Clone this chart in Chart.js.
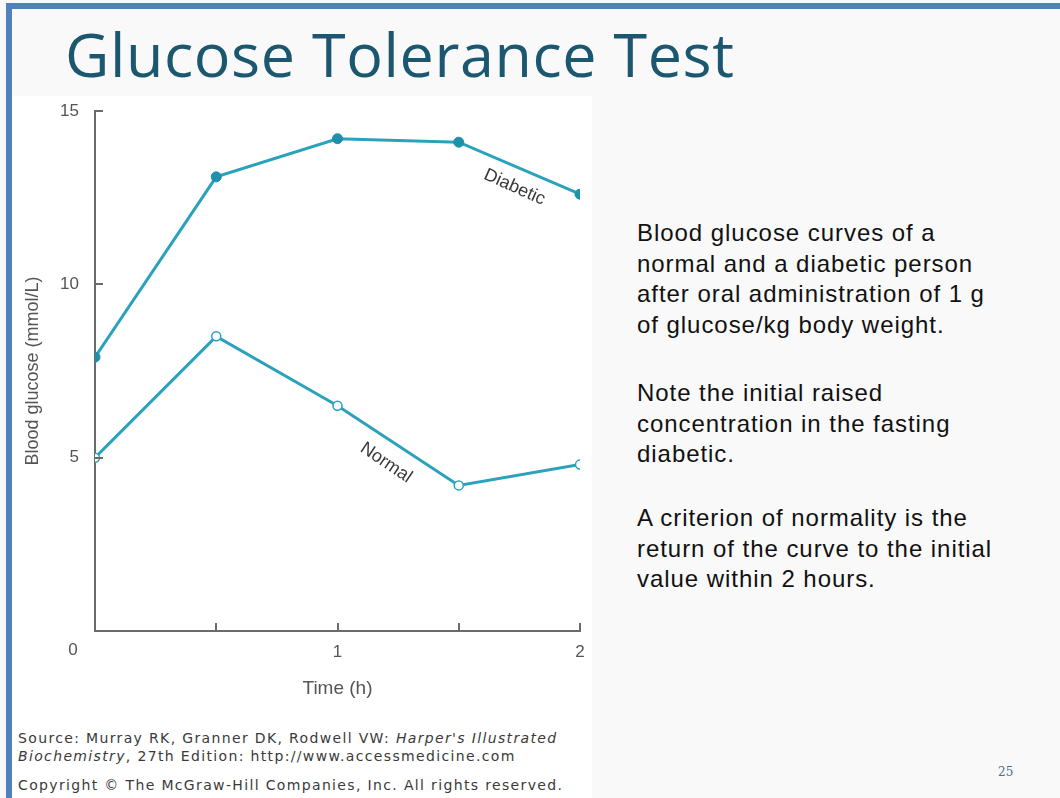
<!DOCTYPE html>
<html>
<head>
<meta charset="utf-8">
<script src="https://cdn.jsdelivr.net/npm/chart.js@4.4.1/dist/chart.umd.min.js"></script>
<style>
  html, body { margin: 0; padding: 0; }
  body { width: 1060px; height: 798px; position: relative; overflow: hidden; background: #f9f9f9; }
  #frame { position: absolute; left: 6px; top: 3px; right: 0; bottom: 0; border-top: 6px solid #4f81bd; border-left: 6px solid #4f81bd; }
  #figure { position: absolute; left: 12px; top: 96px; width: 580px; height: 702px; background: #fff; }
  #title { position: absolute; left: 65px; top: 23px; margin: 0; font: 400 61px/1 "Open Sans", sans-serif; color: #1b5870; white-space: nowrap; }
  #wrap { position: absolute; left: 0; top: 0; width: 600px; height: 710px; }
  .note { position: absolute; left: 637px; margin: 0; font: 24px/30.5px "Liberation Sans", Arial, sans-serif; color: #111; letter-spacing: 0.95px; }
  #src, #copy { position: absolute; left: 18px; margin: 0; font: 14px/18px "DejaVu Sans", Verdana, sans-serif; color: #3a3a3a; letter-spacing: 1.35px; }
  #src { top: 729px; }
  #copy { top: 776px; }
  #page { position: absolute; left: 998px; top: 765px; font: 12px "DejaVu Serif", serif; color: #4a6b8a; }
</style>
</head>
<body>
<div id="frame"></div>
<div id="figure"></div>
<h1 id="title"><span id="titleTxt">Glucose Tolerance Test</span></h1>
<div id="wrap"><canvas id="cGlucose"></canvas></div>
<p class="note" style="top:218px">Blood glucose curves of a<br>normal and a diabetic person<br>after oral administration of 1 g<br>of glucose/kg body weight.</p>
<p class="note" style="top:378px">Note the initial raised<br>concentration in the fasting<br>diabetic.</p>
<p class="note" style="top:503px">A criterion of normality is the<br>return of the curve to the initial<br>value within 2 hours.</p>
<p id="src">Source: Murray RK, Granner DK, Rodwell VW: <i>Harper's Illustrated</i><br><i>Biochemistry</i>, 27th Edition: http://www.accessmedicine.com</p>
<p id="copy">Copyright © The McGraw-Hill Companies, Inc. All rights reserved.</p>
<div id="page">25</div>
<script>
// ── Datos ────────────────────────────────────────────────────
const timeHours = [0, 0.5, 1, 1.5, 2];
const diabetic  = [7.9, 13.1, 14.2, 14.1, 12.6];
const normal    = [5.0, 8.5, 6.5, 4.2, 4.8];
const yTickVals = [0, 5, 10, 15];
const xTickVals = [0, 0.5, 1, 1.5, 2];

// Rótulos sobre las curvas (en unidades de datos)
const curveNames = [
  { text: 'Diabetic', x: 1.73, y: 12.8, angle: 24 },
  { text: 'Normal',   x: 1.2,  y: 4.85, angle: 34 }
];

const LINE = '#2ba2bc';
const AXIS = '#6b6b6b';
const TXT = '#555';
const FONT = '"Liberation Sans", Arial, sans-serif';

// Ajustar el ancho del título al de la diapositiva original
(function fitTitle() {
  const el = document.getElementById('titleTxt');
  const n = el.textContent.length;
  const w = el.getBoundingClientRect().width;
  el.style.letterSpacing = ((669 - w) / (n - 1)).toFixed(2) + 'px';
})();

const pts = arr => timeHours.map((t, i) => ({ x: t, y: arr[i] }));

// Ticks hacia dentro, "0" en la esquina y nombres de las curvas
const decor = {
  id: 'decor',
  afterDatasetsDraw(chart) {
    const { ctx, chartArea: a, scales: { x, y } } = chart;
    ctx.save();
    ctx.strokeStyle = AXIS; ctx.lineWidth = 2;
    ctx.beginPath();
    yTickVals.filter(v => v > 0).forEach(v => {
      const py = Math.round(y.getPixelForValue(v));
      ctx.moveTo(a.left, py); ctx.lineTo(a.left + 8, py);
    });
    xTickVals.filter(v => v > 0).forEach(v => {
      const px = Math.round(x.getPixelForValue(v));
      ctx.moveTo(px, a.bottom); ctx.lineTo(px, a.bottom - 8);
    });
    ctx.stroke();

    ctx.fillStyle = TXT;
    ctx.font = '17px ' + FONT;
    ctx.textAlign = 'center'; ctx.textBaseline = 'middle';
    ctx.fillText('0', a.left - 22, a.bottom + 19);

    ctx.fillStyle = '#3a3a3a';
    ctx.font = '18px ' + FONT;
    curveNames.forEach(c => {
      ctx.save();
      ctx.translate(x.getPixelForValue(c.x), y.getPixelForValue(c.y));
      ctx.rotate(c.angle * Math.PI / 180);
      ctx.fillText(c.text, 0, 0);
      ctx.restore();
    });
    ctx.restore();
  }
};

new Chart(document.getElementById('cGlucose').getContext('2d'), {
  type: 'line',
  data: {
    datasets: [
      {
        label: 'Diabetic', data: pts(diabetic),
        borderColor: LINE, borderWidth: 3, tension: 0,
        pointRadius: 5, pointBackgroundColor: '#1e90aa', pointBorderColor: '#1e90aa', pointBorderWidth: 1
      },
      {
        label: 'Normal', data: pts(normal),
        borderColor: LINE, borderWidth: 3, tension: 0,
        pointRadius: 4.5, pointBackgroundColor: '#fff', pointBorderColor: LINE, pointBorderWidth: 1.5
      }
    ]
  },
  options: {
    responsive: true, maintainAspectRatio: false, animation: false,
    layout: { padding: { top: 111, right: 20, left: 0, bottom: 0 } },
    plugins: { legend: { display: false }, tooltip: { enabled: false } },
    scales: {
      x: {
        type: 'linear', min: 0, max: 2,
        afterFit: s => { s.height = 79; },
        afterBuildTicks: s => { s.ticks = xTickVals.map(v => ({ value: v })); },
        grid: { display: false, drawTicks: false },
        border: { display: true, color: AXIS, width: 2 },
        ticks: {
          padding: 11, color: TXT, font: { family: FONT, size: 17 },
          callback: v => (v > 0 && Number.isInteger(v)) ? String(v) : ''
        },
        title: { display: true, text: 'Time (h)', color: TXT, font: { family: FONT, size: 19 }, padding: { top: 0, bottom: 10 } }
      },
      y: {
        min: 0, max: 15,
        afterFit: s => { s.width = 95; },
        afterBuildTicks: s => { s.ticks = yTickVals.map(v => ({ value: v })); },
        grid: { display: false, drawTicks: false },
        border: { display: true, color: AXIS, width: 2 },
        ticks: {
          padding: 16, color: TXT, font: { family: FONT, size: 17 },
          callback: v => v > 0 ? String(v) : ''
        },
        title: { display: true, text: 'Blood glucose (mmol/L)', color: TXT, font: { family: FONT, size: 18 }, padding: { top: 22, bottom: 0 } }
      }
    }
  },
  plugins: [decor]
});
</script>
</body>
</html>
